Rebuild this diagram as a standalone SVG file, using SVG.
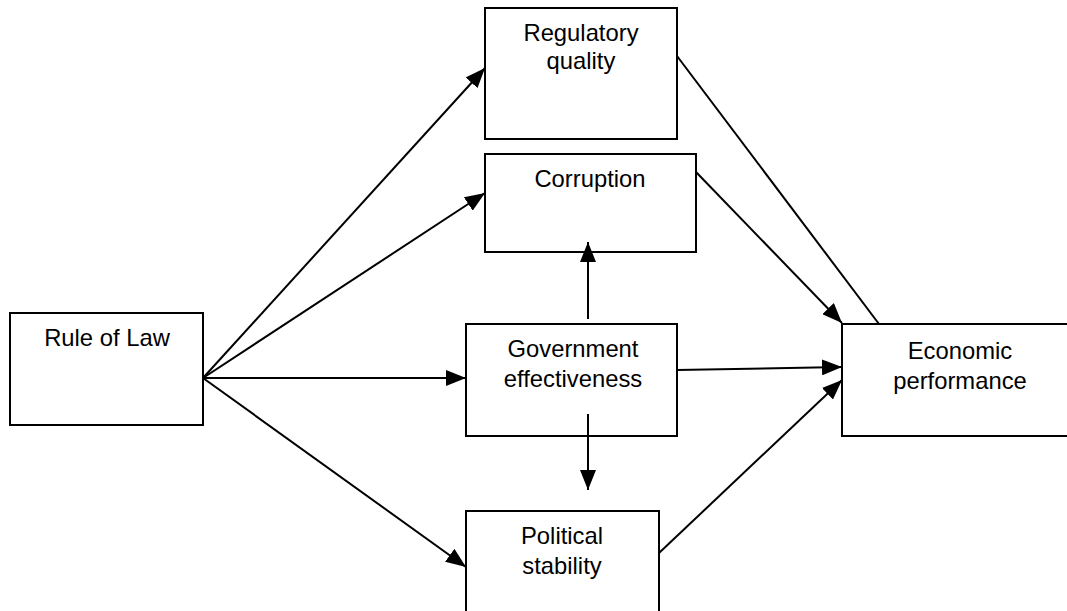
<svg xmlns="http://www.w3.org/2000/svg" width="1067" height="611" viewBox="0 0 1067 611">
<style>
.box{fill:#fff;stroke:#000;stroke-width:2}
.t{font-family:"Liberation Sans",Arial,sans-serif;font-size:23.8px;fill:#000;text-anchor:middle}
.c{stroke:#000;stroke-width:2;fill:none}
.a{marker-end:url(#ah)}
</style>
<defs>
<marker id="ah" viewBox="0 0 20 16" refX="20" refY="8" markerWidth="20" markerHeight="16" markerUnits="userSpaceOnUse" orient="auto"><path d="M0,0 L20,8 L0,16 z" fill="#000"/></marker>
</defs>
<rect width="1067" height="611" fill="#fff"/>
<g id="rule-of-law"><rect class="box" x="10" y="313" width="193" height="112"/><text class="t" x="107" y="346">Rule of Law</text></g>
<g id="regulatory-quality"><rect class="box" x="485" y="8" width="192" height="131"/><text class="t" x="581" y="41">Regulatory</text><text class="t" x="581" y="69">quality</text></g>
<g id="corruption"><rect class="box" x="485" y="154" width="211" height="98"/><text class="t" x="590" y="187">Corruption</text></g>
<g id="government-effectiveness"><rect class="box" x="466" y="324" width="211" height="112"/><text class="t" x="573" y="357">Government</text><text class="t" x="573" y="387">effectiveness</text></g>
<g id="political-stability"><rect class="box" x="466" y="511" width="193" height="110"/><text class="t" x="562" y="544">Political</text><text class="t" x="562" y="574">stability</text></g>
<g id="economic-performance"><rect class="box" x="842" y="324" width="235" height="112"/><text class="t" x="960" y="359">Economic</text><text class="t" x="960" y="389">performance</text></g>
<g id="connectors">
<line class="c a" x1="203" y1="378" x2="485" y2="68"/>
<line class="c a" x1="203" y1="378" x2="485" y2="193"/>
<line class="c a" x1="203" y1="378" x2="466" y2="378"/>
<line class="c a" x1="203" y1="378" x2="466" y2="567"/>
<line class="c a" x1="588" y1="319" x2="588" y2="242"/>
<line class="c a" x1="588" y1="414" x2="588" y2="490"/>
<line class="c a" x1="677" y1="370" x2="842" y2="367"/>
<line class="c" x1="677" y1="56" x2="879" y2="324"/>
<line class="c a" x1="696" y1="172" x2="842" y2="323"/>
<line class="c a" x1="659" y1="553" x2="842" y2="380"/>
</g>
</svg>
